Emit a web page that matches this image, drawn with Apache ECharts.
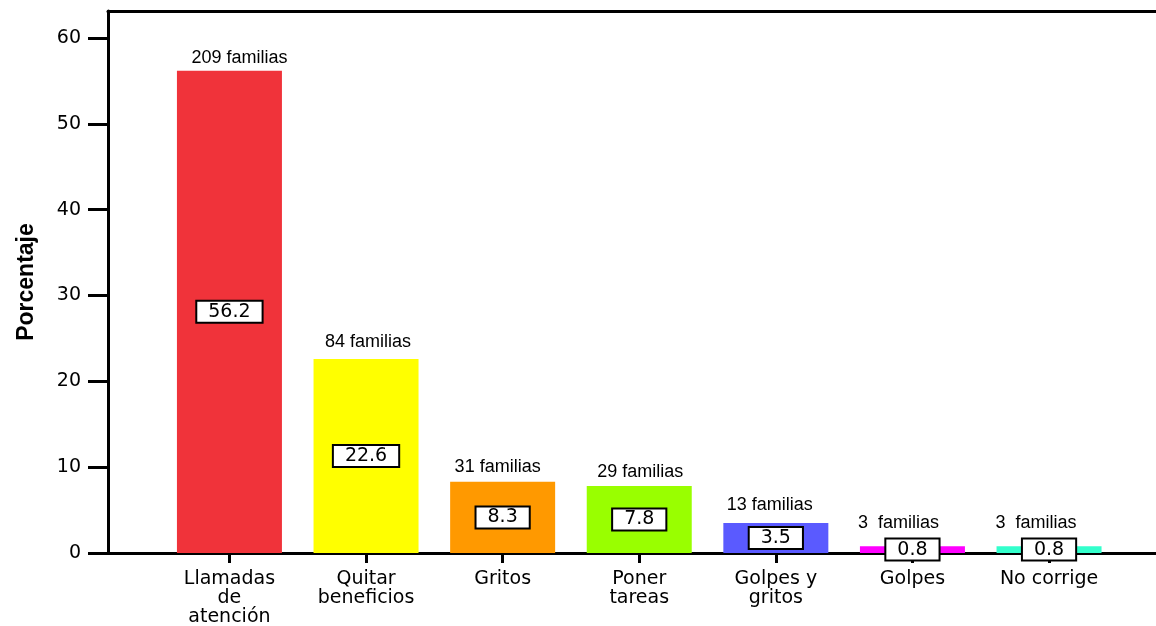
<!DOCTYPE html>
<html>
<head>
<meta charset="utf-8">
<script src="https://cdn.jsdelivr.net/npm/echarts@6/dist/echarts.min.js"></script>
<style>
html,body{margin:0;padding:0;background:#fff;}
#c{width:1156px;height:626px;}
</style>
</head>
<body>
<div id="c"></div>
<script>
const categories = ["Llamadas\nde\natención", "Quitar\nbeneficios", "Gritos", "Poner\ntareas", "Golpes y\ngritos", "Golpes", "No corrige"];
const percentages = [56.2, 22.6, 8.3, 7.8, 3.5, 0.8, 0.8];
const familyLabels = ["209 familias", "84 familias", "31 familias", "29 familias", "13 familias", "3  familias", "3  familias"];
const yTicks = [0, 10, 20, 30, 40, 50, 60];

const barColors = ["#F0333A", "#FFFF00", "#FF9900", "#99FF00", "#5A5AFF", "#FF00FF", "#33FFCC"];
const topLabelGaps = [4, 8, 6, 5, 9, 14, 14];
const topLabelShiftX = [10, 2, -5, 1, -6, -14, -13];

const idx = categories.map((_, i) => i);
const wide = "'DejaVu Sans', Verdana, sans-serif";

const chart = echarts.init(document.getElementById('c'), null, {renderer: 'canvas'});
chart.setOption({
  backgroundColor: '#ffffff',
  animation: false,
  grid: {left: 108, right: 0, top: 11, bottom: 73, containLabel: false, outerBoundsMode: 'none'},
  xAxis: [{
    type: 'value', min: -0.889, max: 6.783,
    axisLine: {show: true, onZero: false, lineStyle: {color: '#000', width: 3}},
    axisTick: {show: true, customValues: idx, length: 10, lineStyle: {color: '#000', width: 3}},
    axisLabel: {show: true, customValues: idx, formatter: v => categories[Math.round(v)],
      color: '#000', fontFamily: wide, fontSize: 19, lineHeight: 19, margin: 17, align: 'center'},
    splitLine: {show: false}
  }, {
    type: 'value', position: 'top', min: -0.889, max: 6.783,
    axisLine: {show: true, onZero: false, lineStyle: {color: '#000', width: 3}},
    axisTick: {show: false}, axisLabel: {show: false}, splitLine: {show: false}
  }],
  yAxis: {
    type: 'value', min: 0, max: 63.15,
    name: 'Porcentaje', nameLocation: 'middle', nameGap: 70, nameRotate: 90,
    nameTextStyle: {fontFamily: "'Liberation Sans Narrow', 'Arial Narrow', 'Liberation Sans', sans-serif", fontWeight: 'bold', fontSize: 23, color: '#000'},
    axisLine: {show: true, onZero: false, lineStyle: {color: '#000', width: 3}},
    axisTick: {show: true, customValues: yTicks, length: 20, lineStyle: {color: '#000', width: 3}},
    axisLabel: {show: true, customValues: yTicks, color: '#000', fontFamily: wide, fontSize: 19, margin: 27},
    splitLine: {show: false}
  },
  series: [{
    type: 'bar', xAxisIndex: 0, barWidth: 105, barGap: '-100%',
    data: percentages.map((v, i) => ({value: [i, v], itemStyle: {color: barColors[i]}})),
    label: {show: true, position: 'inside', formatter: p => p.value[1].toFixed(1),
      color: '#000', fontFamily: wide, fontSize: 19, backgroundColor: '#fff',
      borderColor: '#000', borderWidth: 2, padding: [1, 11, 0, 11]},
    z: 2
  }, {
    type: 'bar', xAxisIndex: 0, barWidth: 105, barGap: '-100%',
    data: percentages.map((v, i) => ({value: [i, v], label: {distance: topLabelGaps[i], offset: [topLabelShiftX[i], 0]}})),
    itemStyle: {color: 'rgba(0,0,0,0)'},
    label: {show: true, position: 'top', formatter: p => familyLabels[p.dataIndex],
      color: '#000', fontFamily: "'Liberation Sans', Arial, sans-serif", fontSize: 18},
    z: 1
  }]
});
</script>
</body>
</html>
